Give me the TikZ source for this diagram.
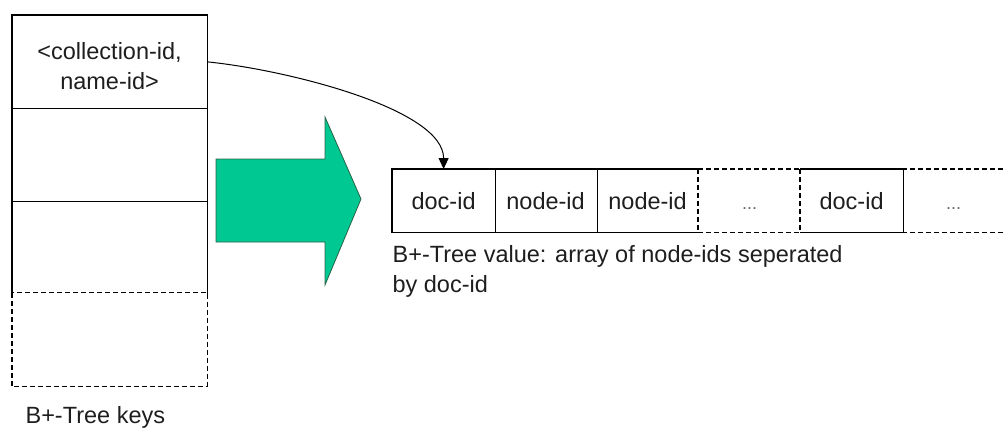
\documentclass[tikz,border=0pt]{standalone}
\usepackage{fontspec}
\setmainfont{Liberation Sans}
\usetikzlibrary{arrows.meta,matrix,positioning}
\definecolor{arrowgreen}{RGB}{0,200,146}
\definecolor{arrowedge}{RGB}{40,100,70}
\definecolor{inkgray}{RGB}{30,30,30}

\begin{document}
\begin{tikzpicture}[x=1pt, y=1pt, line width=1.2pt,
    every node/.style={font=\fontsize{23.5}{30}\selectfont, text=inkgray, inner sep=0pt},
    keycell/.style={minimum width=194pt, minimum height=92.5pt, anchor=center},
    valcell/.style={minimum width=102pt, minimum height=62pt, anchor=center,
      text height=17pt, text depth=0pt},
    dashline/.style={dash pattern=on 5pt off 3pt},
    dots/.style={text=gray!80!black, font=\fontsize{18}{20}\selectfont},
    link/.style={-{Triangle[length=11pt,width=10pt]}, line width=1pt}]
  \useasboundingbox (0,0) rectangle (1004,-428);

  % Set up a matrix for the key column
  \matrix (key) [matrix of nodes, nodes in empty cells, nodes={keycell},
    row sep=0pt, anchor=north west] at (12,-15) {
    \\
    \\
    \\
    \\
  };
  \node (keytext) [align=center] at ([yshift=-4pt]key-1-1.center) {<collection-id,\\name-id>};
  \draw (key-3-1.south west) -- (key-1-1.north west) -- (key-1-1.north east) -- (key-3-1.south east)
        (key-1-1.south west) -- (key-1-1.south east)
        (key-2-1.south west) -- (key-2-1.south east);
  \draw[dashline] (key-4-1.north west) rectangle (key-4-1.south east);
  \node (keynote) [below right=20pt and 13pt of key.south west] {B+-Tree keys};

  % the big arrow
  \filldraw[fill=arrowgreen, draw=arrowedge, line width=0.8pt]
    (216,-159) -- (325,-159) -- (325,-117) -- (361,-199) -- (325,-285) -- (325,-242) -- (216,-242) -- cycle;

  % Set up a matrix for the value array
  \matrix (val) [matrix of nodes, nodes={valcell}, column sep=0pt,
    anchor=north west] at (392,-169) {
    doc-id & node-id & node-id & |[dots]| ... & doc-id & |[dots]| ... \\
  };
  \draw (val-1-4.north west) -- (val-1-1.north west) -- (val-1-1.south west) -- (val-1-4.south west)
        (val-1-1.north east) -- (val-1-1.south east)
        (val-1-2.north east) -- (val-1-2.south east)
        (val-1-5.north west) -- (val-1-5.north east) -- (val-1-5.south east) -- (val-1-5.south west);
  \draw[dashline] (val-1-4.north west) -- (val-1-4.south west)
        (val-1-5.north west) -- (val-1-5.south west)
        (val-1-4.north west) -- (val-1-4.north east)
        (val-1-4.south west) -- (val-1-4.south east)
        (val-1-6.north west) -- (val-1-6.north east)
        (val-1-6.south west) -- (val-1-6.south east);
  \node (valnote) [below right=13pt and 0pt of val.south west, align=left]
    {B+-Tree value: array of node-ids seperated\\by doc-id};

  \draw[link] (key-1-1.east) .. controls +(80,-8) and +(0,60) .. (val-1-1.north);
\end{tikzpicture}
\end{document}
